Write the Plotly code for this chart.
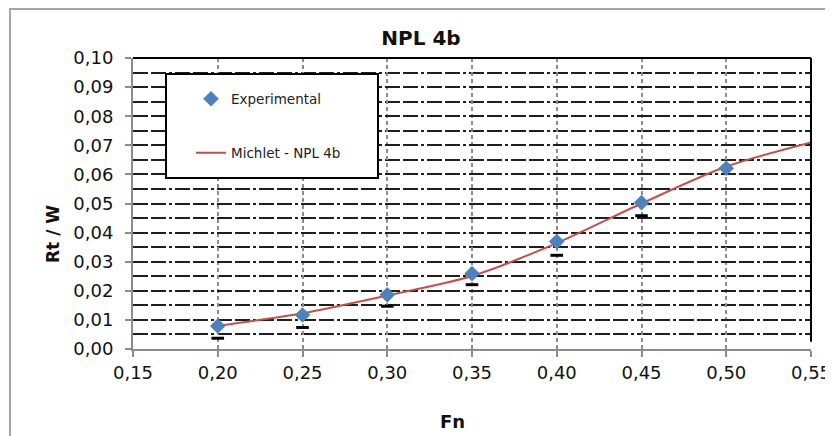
import plotly.graph_objects as go

# ---- data ----
fn_exp = [0.20, 0.25, 0.30, 0.35, 0.40, 0.45, 0.50]
rt_exp = [0.0079, 0.0117, 0.0186, 0.0259, 0.0369, 0.0503, 0.0621]

fn_low = [0.20, 0.25, 0.30, 0.35, 0.40, 0.45]
rt_low = [0.0037, 0.0074, 0.0147, 0.0221, 0.0322, 0.0458]

fn_michlet = [0.20, 0.25, 0.30, 0.35, 0.40, 0.45, 0.50, 0.55]
rt_michlet = [0.0080, 0.0123, 0.0184, 0.0251, 0.0364, 0.0500, 0.0627, 0.0710]

x_ticks = [0.15, 0.20, 0.25, 0.30, 0.35, 0.40, 0.45, 0.50, 0.55]
y_ticks = [0.00, 0.01, 0.02, 0.03, 0.04, 0.05, 0.06, 0.07, 0.08, 0.09, 0.10]

FONT = "DejaVu Sans"
TXT = "#111111"
GRID_DASH = "15px,3px,15px,3px,3px,3px"

# page offset of the figure (browser body margin)
OFF = 8
W, H = 833 - OFF, 436 - OFF
PL, PR, PT, PB = 133, 811, 58, 349          # plot area in page pixels
PW, PH = PR - PL, PB - PT


def px(xp):
    return (xp - PL) / PW


def py(yp):
    return (PB - yp) / PH


fig = go.Figure()

fig.add_trace(go.Scatter(
    x=fn_michlet, y=rt_michlet, mode="lines", name="Michlet - NPL 4b",
    line=dict(color="#C0504D", width=2, shape="spline", smoothing=0.8),
    legend="legend2",
))
fig.add_trace(go.Scatter(
    x=fn_low, y=rt_low, mode="markers", showlegend=False,
    marker=dict(symbol="line-ew", size=9, color="black",
                line=dict(color="black", width=3)),
))
fig.add_trace(go.Scatter(
    x=fn_exp, y=rt_exp, mode="markers", name="Experimental",
    marker=dict(symbol="diamond", size=12, color="#4F81BD",
                line=dict(color="#4a7ab5", width=0)),
    legend="legend",
))

fig.update_layout(
    width=W, height=H,
    margin=dict(l=PL - OFF, r=W - (PR - OFF), t=PT - OFF, b=H - (PB - OFF)),
    paper_bgcolor="white", plot_bgcolor="white",
    separators=",.",
    font=dict(family=FONT, color=TXT),
    title=dict(text="NPL 4b", x=(421 - OFF) / W, xref="container", xanchor="center",
               y=1 - (38 - OFF) / H, yref="container", yanchor="middle",
               font=dict(family=FONT, size=20, weight="bold", color="#111")),
    xaxis=dict(
        range=[0.15, 0.55], tickmode="array", tickvals=x_ticks, tickformat=".2f",
        automargin=False,
        showline=True, linecolor="#8c8c8c", linewidth=2,
        ticks="outside", ticklen=6, tickwidth=2, tickcolor="#8c8c8c",
        showgrid=True, gridcolor="#8c8c8c", gridwidth=1.5, griddash="4px,3px",
        zeroline=False, tickfont=dict(family=FONT, size=18, color=TXT),
    ),
    yaxis=dict(
        range=[0, 0.10], tickmode="array", tickvals=y_ticks, tickformat=".2f",
        automargin=False, ticklabelstandoff=8,
        showline=True, linecolor="#8c8c8c", linewidth=2,
        ticks="outside", ticklen=6, tickwidth=2, tickcolor="#8c8c8c",
        showgrid=True, gridcolor="#1e1e1e", gridwidth=2, griddash=GRID_DASH,
        minor=dict(dtick=0.005, showgrid=True, gridcolor="#1e1e1e", gridwidth=2,
                   griddash=GRID_DASH, ticks=""),
        zeroline=False, tickfont=dict(family=FONT, size=18, color=TXT),
    ),
    legend=dict(x=px(191), xanchor="left", y=py(99), yanchor="middle",
                bgcolor="rgba(0,0,0,0)", borderwidth=0,
                font=dict(family=FONT, size=13.5, color="#222")),
    legend2=dict(x=px(191), xanchor="left", y=py(153), yanchor="middle",
                 bgcolor="rgba(0,0,0,0)", borderwidth=0,
                 font=dict(family=FONT, size=13.5, color="#222")),
    shapes=[
        # outer chart border
        dict(type="rect", xref="paper", yref="paper",
             x0=px(10), x1=px(845), y0=py(450), y1=py(9),
             line=dict(color="#a6a6a6", width=2), fillcolor="rgba(0,0,0,0)", layer="below"),
        # top & right plot frame
        dict(type="line", xref="paper", yref="paper", x0=0, x1=1, y0=1, y1=1,
             line=dict(color="black", width=2), layer="above"),
        dict(type="line", xref="paper", yref="paper", x0=1, x1=1, y0=0.025, y1=1,
             line=dict(color="black", width=2), layer="above"),
        # legend box
        dict(type="rect", xref="paper", yref="paper",
             x0=px(166), x1=px(378), y0=py(178), y1=py(74),
             line=dict(color="black", width=2), fillcolor="white", layer="above"),
    ],
    annotations=[
        dict(text="Fn", xref="paper", yref="paper", x=px(452), y=py(421),
             xanchor="center", yanchor="middle", showarrow=False,
             font=dict(family=FONT, size=18, weight="bold", color="#111")),
        dict(text="Rt / W", xref="paper", yref="paper", x=px(53), y=py(234),
             xanchor="center", yanchor="middle", showarrow=False, textangle=-90,
             font=dict(family=FONT, size=17, weight="bold", color="#111")),
    ],
)

fig.write_html("out.html")
